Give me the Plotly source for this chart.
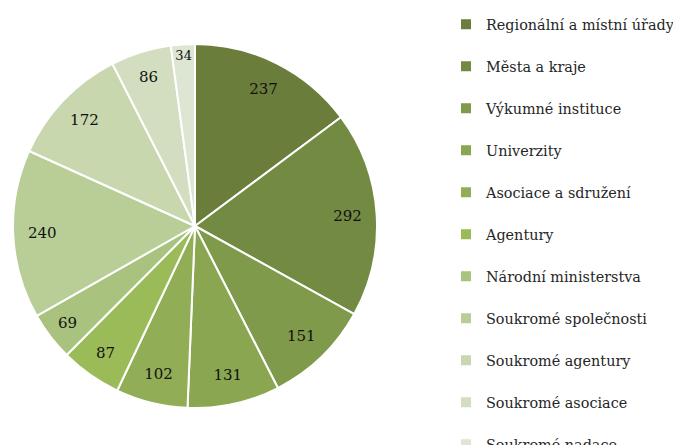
import plotly.graph_objects as go

categories = ["Regionální a místní úřady", "Města a kraje", "Výkumné instituce", "Univerzity",
              "Asociace a sdružení", "Agentury", "Národní ministerstva", "Soukromé společnosti",
              "Soukromé agentury", "Soukromé asociace", "Soukromé nadace"]
values = [237, 292, 151, 131, 102, 87, 69, 240, 172, 86, 34]
colors = ["#6A7D3B", "#738A43", "#7F9A4A", "#8AA650", "#91AE57", "#9BBB59",
          "#A9C27D", "#B9CE97", "#C8D7AE", "#D3DEC0", "#DDE6D2"]

FONT = "DejaVu Serif"
DOM = dict(x=[5/681, 369/681], y=[1-400/445, 1-36/445])

legend_labels = ['<span style="font-size:14.4px">' + c + '</span><br> ' for c in categories]

fig = go.Figure()
# filled slices with legend
fig.add_trace(go.Pie(
    labels=legend_labels,
    values=values,
    sort=False,
    direction="clockwise",
    rotation=0,
    textinfo="none",
    marker=dict(colors=colors, line=dict(color="white", width=2)),
    domain=DOM,
    hoverinfo="label+value",
))
# transparent ring carrying the value labels near the rim
fig.add_trace(go.Pie(
    labels=legend_labels,
    values=values,
    sort=False,
    direction="clockwise",
    rotation=0,
    hole=0.68,
    textinfo="value",
    textposition="inside",
    insidetextorientation="horizontal",
    textfont=dict(family=FONT, size=15, color="#111111"),
    marker=dict(colors=["rgba(0,0,0,0)"] * len(values), line=dict(width=0)),
    domain=DOM,
    showlegend=False,
    hoverinfo="skip",
))

fig.update_layout(
    width=681, height=445,
    margin=dict(l=0, r=0, t=0, b=0),
    paper_bgcolor="white",
    plot_bgcolor="white",
    showlegend=True,
    legend=dict(
        x=438/681, y=1, xanchor="left", yanchor="top",
        font=dict(family=FONT, size=15, color="#262626"),
        valign="top",
        bgcolor="rgba(0,0,0,0)",
        tracegroupgap=0,
        maxheight=1,
    ),
)

post = """
var s=document.createElement('style');
s.innerHTML='.legend .scrollbar{display:none !important;}';
document.head.appendChild(s);
"""
fig.write_html("out.html", post_script=post)
